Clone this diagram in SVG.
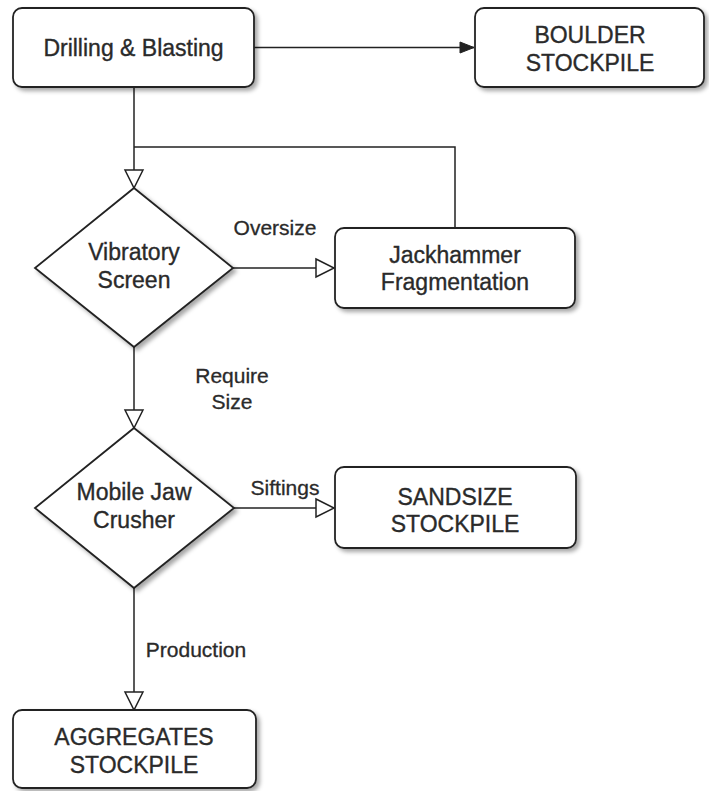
<svg xmlns="http://www.w3.org/2000/svg" width="709" height="791" viewBox="0 0 709 791">
<style>
.node{fill:#fff;stroke:#222;stroke-width:1.8;filter:url(#sh)}
.t{font-family:"Liberation Sans",Arial,sans-serif;font-size:23px;fill:#2a2a2a;stroke:#2a2a2a;stroke-width:0.35;text-anchor:middle}
.lbl{font-family:"Liberation Sans",Arial,sans-serif;font-size:21px;fill:#2a2a2a;stroke:#2a2a2a;stroke-width:0.3;text-anchor:middle}
.edge{fill:none;stroke:#222;stroke-width:1.5}
</style>
<defs>
<filter id="sh" x="-10%" y="-10%" width="130%" height="130%">
<feDropShadow dx="3" dy="3" stdDeviation="2" flood-color="#000" flood-opacity="0.35"/>
</filter>
<marker id="open" markerUnits="userSpaceOnUse" markerWidth="22" markerHeight="22" refX="18" refY="9" orient="auto" overflow="visible">
<path d="M0,0 L18,9 L0,18 Z" fill="#fff" stroke="#222" stroke-width="1.5"/>
</marker>
<marker id="filled" markerUnits="userSpaceOnUse" markerWidth="16" markerHeight="12" refX="14" refY="5.5" orient="auto" overflow="visible">
<path d="M0,0 L14,5.5 L0,11 Z" fill="#222" stroke="#222" stroke-width="1"/>
</marker>
</defs>
<rect width="709" height="791" fill="#fff"/>

<g id="connectors">
<line class="edge" x1="254" y1="47.5" x2="474" y2="47.5" marker-end="url(#filled)"/>
<line class="edge" x1="134" y1="87" x2="134" y2="188" marker-end="url(#open)"/>
<polyline class="edge" points="455,228 455,147 134,147"/>
<line class="edge" x1="233" y1="268" x2="334" y2="268" marker-end="url(#open)"/>
<line class="edge" x1="134" y1="347" x2="134" y2="428" marker-end="url(#open)"/>
<line class="edge" x1="234" y1="508" x2="334" y2="508" marker-end="url(#open)"/>
<line class="edge" x1="134" y1="588" x2="134" y2="710" marker-end="url(#open)"/>
<text class="lbl" x="275" y="235">Oversize</text>
<text class="lbl" x="232" y="383">Require</text>
<text class="lbl" x="232" y="409">Size</text>
<text class="lbl" x="285" y="495">Siftings</text>
<text class="lbl" x="196" y="657">Production</text>
</g>

<g id="drilling">
<rect class="node" x="13" y="8" width="241" height="79" rx="9"/>
<text class="t" x="133.5" y="56">Drilling &amp; Blasting</text>
</g>
<g id="boulder">
<rect class="node" x="475" y="8" width="229" height="79" rx="9"/>
<text class="t" x="590" y="43">BOULDER</text>
<text class="t" x="590" y="71">STOCKPILE</text>
</g>
<g id="screen">
<polygon class="node" points="134,188 233,268 134,347 35,268"/>
<text class="t" x="134" y="260">Vibratory</text>
<text class="t" x="134" y="288">Screen</text>
</g>
<g id="jackhammer">
<rect class="node" x="335" y="228" width="240" height="80" rx="9"/>
<text class="t" x="455" y="263">Jackhammer</text>
<text class="t" x="455" y="290">Fragmentation</text>
</g>
<g id="crusher">
<polygon class="node" points="134,428 234,508 134,588 35,508"/>
<text class="t" x="134" y="500">Mobile Jaw</text>
<text class="t" x="134" y="528">Crusher</text>
</g>
<g id="sandsize">
<rect class="node" x="335" y="467" width="241" height="81" rx="9"/>
<text class="t" x="455" y="505">SANDSIZE</text>
<text class="t" x="455" y="532">STOCKPILE</text>
</g>
<g id="aggregates">
<rect class="node" x="13" y="710" width="243" height="78" rx="9"/>
<text class="t" x="134" y="745">AGGREGATES</text>
<text class="t" x="134" y="773">STOCKPILE</text>
</g>
</svg>
